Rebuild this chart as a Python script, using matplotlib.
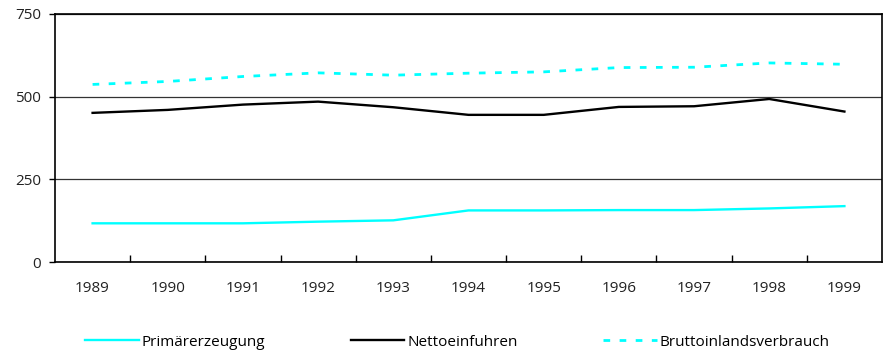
import numpy as np
import matplotlib
matplotlib.use("Agg")
import matplotlib.pyplot as plt

plt.rcParams["font.family"] = ["Open Sans", "DejaVu Sans"]

years = ["1989", "1990", "1991", "1992", "1993", "1994",
         "1995", "1996", "1997", "1998", "1999"]
primaer = [117, 117, 117, 122, 126, 156, 156, 157, 157, 162, 169]
netto   = [451, 460, 476, 485, 468, 445, 445, 469, 471, 493, 455]
brutto  = [537, 546, 561, 572, 565, 571, 575, 588, 589, 602, 598]

CYAN = "#00FFFF"

fig = plt.figure(figsize=(8.85, 3.52), dpi=100)
ax = fig.add_axes([55 / 885, 1 - 262 / 352, 827 / 885, 248 / 352])

x = np.arange(len(years))
ax.plot(x, primaer, color=CYAN, lw=1.7, label="Primärerzeugung")
ax.plot(x, netto, color="black", lw=1.7, label="Nettoeinfuhren")
ax.plot(x, brutto, color=CYAN, lw=2.0, dashes=(2.4, 3.4),
        label="Bruttoinlandsverbrauch")

ax.set_xlim(-0.5, len(years) - 0.5)
ax.set_ylim(0, 750)
ax.set_yticks([0, 250, 500, 750])
ax.set_xticks(x)
ax.set_xticklabels(years)
ax.set_xticks(np.arange(0.5, len(years) - 1, 1), minor=True)
ax.tick_params(axis="x", which="major", length=0, pad=14, labelsize=11,
               labelcolor="#222222")
ax.tick_params(axis="x", which="minor", direction="in", length=5, width=1)
ax.tick_params(axis="y", length=4, width=1, labelsize=11, labelcolor="#222222",
               pad=6)
ax.grid(axis="y", color="#333333", lw=0.9)
for s in ax.spines.values():
    s.set_linewidth(1.2)

fig.legend(loc="center", bbox_to_anchor=(0.517, 1 - 342 / 352), ncol=3,
           frameon=False, fontsize=11, handlelength=3.5, handletextpad=0.2,
           columnspacing=5.6)

fig.savefig("out.png", dpi=100)
